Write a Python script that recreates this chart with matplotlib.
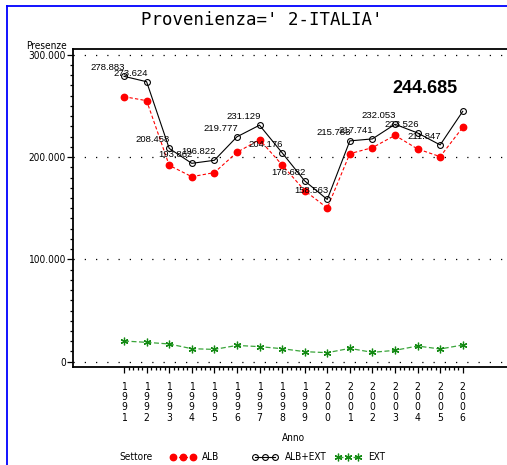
import matplotlib
matplotlib.use('Agg')
import matplotlib.pyplot as plt
from matplotlib.lines import Line2D
from matplotlib.ticker import FuncFormatter, FixedLocator, MultipleLocator

years = list(range(1991, 2007))
alb_ext = [278883, 273624, 208458, 193862, 196822, 219777, 231129, 204176,
           176682, 158563, 215783, 217741, 232053, 223526, 211847, 244685]
alb = [259000, 255100, 191900, 180800, 184800, 204600, 217000, 192300,
       167200, 150200, 203300, 209200, 221200, 207900, 200400, 229000]
ext = [20200, 18900, 17300, 12700, 12000, 15900, 14700, 12700,
       9800, 8800, 13000, 9100, 11100, 15300, 12400, 16300]
yticks = [0, 100000, 200000, 300000]
title = "Provenienza=' 2-ITALIA'"
series_names = ["ALB", "ALB+EXT", "EXT"]

W, H = 507, 465
fig = plt.figure(figsize=(W / 100, H / 100), dpi=100)
NARROW = dict(family=['DejaVu Sans'], stretch='condensed')
MONO = ['DejaVu Sans Mono']
SANS = ['Liberation Sans', 'DejaVu Sans']
SMALL = 7.2

def fx(px):
    return px / W

def fy(py):
    return 1 - py / H

ax = fig.add_axes([fx(73), fy(367), (507 - 73) / W, (367 - 49) / H])

RED = '#ff0000'
GREEN_L = '#3aa53a'
GREEN_M = '#138a13'

ax.plot(years, alb, color=RED, ls=(0, (3, 2)), lw=0.8, marker='o', ms=4.6,
        mfc=RED, mec=RED, zorder=3)
ax.plot(years, alb_ext, color='black', lw=0.8, marker='o', ms=4.2,
        mfc='none', mec='black', mew=0.8, zorder=4)
ax.plot(years, ext, color=GREEN_L, ls=(0, (4, 2)), lw=0.9, marker=(6, 2, 0),
        ms=5.5, mec=GREEN_M, mew=0.9, zorder=3)

for i, (x, v) in enumerate(zip(years, alb_ext)):
    s = f"{v:,}".replace(',', '.')
    if i == len(years) - 1:
        ax.annotate(s, (x, v), xytext=(-5, 14), textcoords='offset pixels',
                    ha='right', va='bottom', fontsize=13, fontweight='bold',
                    family=SANS, zorder=6)
    else:
        ax.annotate(s, (x, v), xytext=(1, 4), textcoords='offset pixels',
                    ha='right', va='bottom', fontsize=6.8, family=SANS, zorder=6)

ax.set_xlim(1988.74, 2007.96)
ax.set_ylim(-5200, 305600)

ax.yaxis.set_major_locator(FixedLocator(yticks))
ax.yaxis.set_minor_locator(MultipleLocator(10000))
ax.yaxis.set_major_formatter(FuncFormatter(lambda v, p: f"{int(round(v)):,}".replace(',', '.')))
ax.xaxis.set_major_locator(FixedLocator(years))
minor_x = [y + k * 0.2 for y in years[:-1] for k in range(1, 5)]
ax.xaxis.set_minor_locator(FixedLocator(minor_x))
ax.set_xticklabels(['\n'.join(str(y)) for y in years], fontsize=SMALL + 0.3,
                   linespacing=1.05, **NARROW)
for lab in ax.get_yticklabels():
    lab.set_family(NARROW['family'])
    lab.set_stretch('condensed')
    lab.set_fontsize(SMALL)

ax.tick_params(axis='y', which='major', direction='out', length=4, width=0.9, pad=1)
ax.tick_params(axis='y', which='minor', direction='out', length=2.3, width=0.9)
ax.tick_params(axis='x', which='major', direction='out', length=4.5, width=0.9, pad=6)
ax.tick_params(axis='x', which='minor', direction='out', length=2.5, width=0.9)

ax.grid(axis='y', which='major', color='black', ls=(0, (1, 8)), lw=0.9)
ax.spines['right'].set_visible(False)
for sp in ['left', 'bottom', 'top']:
    ax.spines[sp].set_linewidth(1.3)

fig.text(fx(262), fy(20), title, ha='center', va='center', fontsize=12.5,
         family=MONO)
fig.text(fx(67), fy(46), "Presenze", ha='right', va='center', fontsize=SMALL,
         **NARROW)
fig.text(fx(293), fy(438), "Anno", ha='center', va='center', fontsize=SMALL,
         **NARROW)

# legend
ly = fy(457)
fig.text(fx(119), ly, "Settore", ha='left', va='center', fontsize=SMALL, **NARROW)
legend_specs = [
    (series_names[0], dict(color=RED, ls=(0, (3, 2)), lw=0.8, marker='o', ms=4.6, mfc=RED, mec=RED), 173, 202),
    (series_names[1], dict(color='black', lw=0.8, marker='o', ms=4.2, mfc='none', mec='black', mew=0.8), 255, 285),
    (series_names[2], dict(color=GREEN_L, ls=(0, (4, 2)), lw=0.9, marker=(6, 2, 0), ms=5.5, mec=GREEN_M, mew=0.9), 338, 368),
]
for name, style, x0, tx in legend_specs:
    xs = [fx(x0), fx(x0 + 10), fx(x0 + 20)]
    fig.add_artist(Line2D(xs, [ly] * 3, transform=fig.transFigure, **style))
    fig.text(fx(tx), ly, name, ha='left', va='center', fontsize=SMALL, **NARROW)

# blue frame
fig.add_artist(Line2D([fx(7), fx(7)], [0, fy(6)], transform=fig.transFigure,
                      color='#0000ff', lw=1.3))
fig.add_artist(Line2D([fx(7), 1], [fy(6), fy(6)], transform=fig.transFigure,
                      color='#0000ff', lw=1.3))

fig.savefig('out.png', dpi=100)
